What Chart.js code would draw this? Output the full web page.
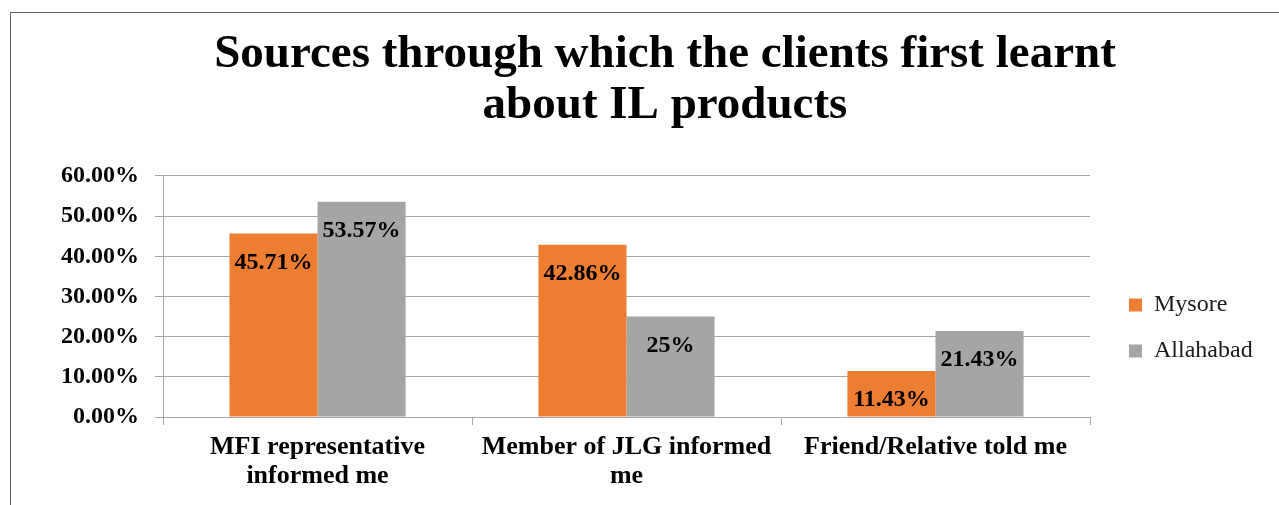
<!DOCTYPE html>
<html>
<head>
<meta charset="utf-8">
<script src="https://cdn.jsdelivr.net/npm/chart.js@4"></script>
<style>
  html, body { margin: 0; padding: 0; background: #fff; overflow: hidden; }
  #wrap {
    position: absolute; left: 10px; top: 12px;
    border-left: 1px solid #666; border-top: 1px solid #666;
  }
  canvas { display: block; }
</style>
</head>
<body>
<div id="wrap"><canvas id="chart" width="1308" height="492"></canvas></div>
<script>
// data
const categories = [
    ['MFI representative', 'informed me'],
    ['Member of JLG informed', 'me'],
    'Friend/Relative told me'
];
const mysore = [45.71, 42.86, 11.43];
const allahabad = [53.57, 25, 21.43];
const yTicks = [0, 10, 20, 30, 40, 50, 60];

const serif = '"Liberation Serif", "DejaVu Serif", serif';
const gridColor = '#a6a6a6';

function pct(v) {
    return Number.isInteger(v) ? v + '%' : v.toFixed(2) + '%';
}

// value labels inside the top of each bar
const barLabels = {
    id: 'barLabels',
    afterDatasetsDraw(chart) {
        const ctx = chart.ctx;
        ctx.save();
        ctx.font = 'bold 24px ' + serif;
        ctx.fillStyle = '#000';
        ctx.textAlign = 'center';
        ctx.textBaseline = 'middle';
        chart.data.datasets.forEach((ds, i) => {
            chart.getDatasetMeta(i).data.forEach((bar, j) => {
                ctx.fillText(pct(ds.data[j]), bar.x, bar.y + 29);
            });
        });
        ctx.restore();
    }
};

// fixed legend column on the right, like the original
const legendBox = {
    id: 'legendBox',
    afterInit(chart) {
        const lg = chart.legend;
        const fit = lg.fit.bind(lg);
        lg.fit = function () { fit(); this.width = 229; };
    },
    afterLayout(chart) {
        const lg = chart.legend;
        lg.left += 17; lg.right += 17;
        lg.top += 69; lg.bottom += 69;
    }
};

new Chart(document.getElementById('chart'), {
    type: 'bar',
    data: {
        labels: categories,
        datasets: [
            { label: 'Mysore', data: mysore, backgroundColor: '#ed7d31' },
            { label: 'Allahabad', data: allahabad, backgroundColor: '#a5a5a5' }
        ]
    },
    options: {
        responsive: false,
        animation: false,
        layout: { padding: 0 },
        datasets: { bar: { categoryPercentage: 0.57, barPercentage: 1 } },
        plugins: {
            title: {
                display: true,
                text: ['Sources through which the clients first learnt', 'about IL products'],
                color: '#000',
                font: { family: serif, size: 47, weight: 'bold', lineHeight: 1.085 },
                padding: { top: 16.5, bottom: 44.5 }
            },
            legend: {
                position: 'right',
                labels: {
                    color: '#1a1a1a',
                    boxWidth: 13, boxHeight: 13,
                    padding: 22,
                    font: { family: serif, size: 24 }
                }
            },
            tooltip: { enabled: false }
        },
        scales: {
            x: {
                afterFit(s) { s.height = 88; },
                grid: { offset: true, drawOnChartArea: false, tickLength: 8, color: gridColor },
                border: { color: gridColor },
                ticks: {
                    color: '#000', padding: 7.5, maxRotation: 0, autoSkip: false,
                    font: { family: serif, size: 26, weight: 'bold', lineHeight: 1.115 }
                }
            },
            y: {
                min: 0, max: 60,
                afterFit(s) { s.width = 152; },
                afterBuildTicks(s) { s.ticks = yTicks.map(v => ({ value: v })); },
                grid: { color: gridColor, tickLength: 8 },
                border: { color: gridColor },
                ticks: {
                    color: '#000', padding: 16,
                    font: { family: serif, size: 24, weight: 'bold' },
                    callback: v => v.toFixed(2) + '%'
                }
            }
        }
    },
    plugins: [barLabels, legendBox]
});
</script>
</body>
</html>
